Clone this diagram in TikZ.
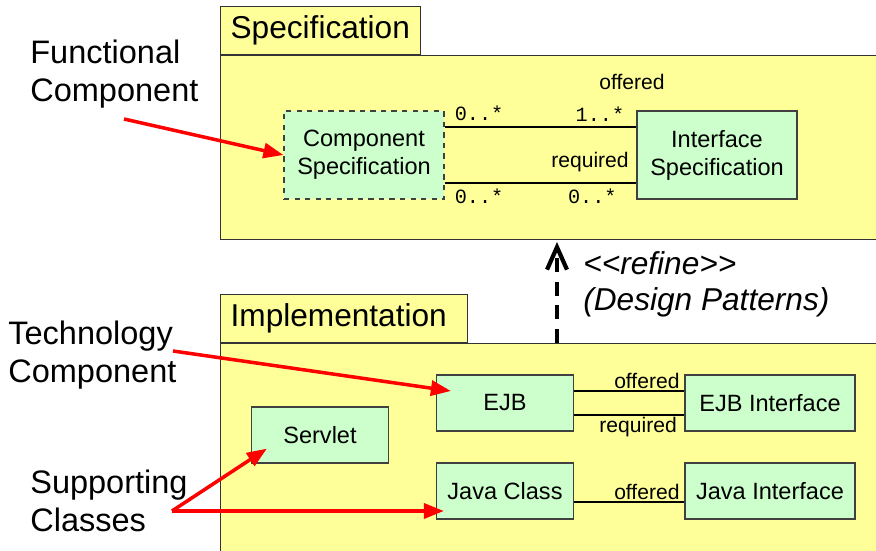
\documentclass[tikz,border=0pt]{standalone}
\usepackage{fontspec}
\setmainfont{Liberation Sans}
\setmonofont{Liberation Mono}
\usetikzlibrary{arrows.meta}
\definecolor{pkgyellow}{RGB}{255,255,153}
\definecolor{compgreen}{RGB}{204,255,204}

\begin{document}
\begin{tikzpicture}[x=0.02cm,y=-0.02cm,
  pkg/.style={draw=black!80,fill=pkgyellow,line width=0.7pt},
  pkgtab/.style={pkg,anchor=south west,minimum height=0.96cm,inner xsep=0.2cm,text width=#1,align=left,font=\fontsize{18}{20}\selectfont},
  comp/.style={draw=black!75,fill=compgreen,line width=0.7pt,align=center,inner sep=0pt,font=\fontsize{13.4}{16}\selectfont},
  assoc/.style={line width=0.8pt},
  role/.style={inner sep=1pt,font=\fontsize{12}{14}\selectfont},
  mult/.style={inner sep=1pt,font=\ttfamily\fontsize{11.5}{13}\selectfont},
  note/.style={anchor=west,align=left,inner sep=0pt,font=\fontsize{18.5}{22}\selectfont},
  pointer/.style={red,line width=2pt,-{Triangle[length=0.4cm,width=0.3cm]}},
  refine/.style={line width=2.4pt,dash pattern=on 8pt off 5.5pt,-{Straight Barb[length=0.45cm,width=0.4cm]}}]
  \useasboundingbox (0,0) rectangle (876,551);
  \clip (0,0) rectangle (876,551);

  % packages
  \node[pkg,anchor=north west,minimum width=13.4cm,minimum height=3.68cm] (specbody) at (220,55) {};
  \node[pkgtab=3.6cm] (spectab) at (specbody.north west) {Specification};
  \node[pkg,anchor=north west,minimum width=13.4cm,minimum height=4.4cm] (implbody) at (220,343) {};
  \node[pkgtab=4.54cm] (impltab) at (implbody.north west) {Implementation};

  % specification level
  \node[comp,dashed,minimum width=3.2cm,minimum height=1.76cm] (compspec) at (364,155) {Component\\Specification};
  \node[comp,minimum width=3.2cm,minimum height=1.76cm] (ifacespec) at (717,155) {Interface\\Specification};
  \draw[assoc] ([yshift=0.56cm]compspec.east) -- ([yshift=0.56cm]ifacespec.west)
    node[mult,pos=0.18,above=2pt] (multa) {0..*}
    node[mult,pos=0.81,above=2pt] (multb) {1..*};
  \draw[assoc] ([yshift=-0.56cm]compspec.east) -- ([yshift=-0.56cm]ifacespec.west)
    node[mult,pos=0.18,below=2pt] (multc) {0..*}
    node[mult,pos=0.77,below=2pt] (multd) {0..*};
  \node[role] (specoffered) at (632,82) {offered};
  \node[role] (specrequired) at (590,162) {required};

  % implementation level
  \node[comp,minimum width=2.74cm,minimum height=1.12cm] (ejb) at (505,403) {EJB};
  \node[comp,minimum width=3.4cm,minimum height=1.12cm] (ejbiface) at (770,403) {EJB Interface};
  \node[comp,minimum width=2.74cm,minimum height=1.12cm] (servlet) at (320,435) {Servlet};
  \node[comp,minimum width=2.74cm,minimum height=1.12cm] (javaclass) at (505,491) {Java Class};
  \node[comp,minimum width=3.4cm,minimum height=1.12cm] (javaiface) at (770,491) {Java Interface};
  \draw[assoc] ([yshift=0.24cm]ejb.east) -- ([yshift=0.24cm]ejbiface.west)
    node[role,pos=0.66,above] (ejboffered) {offered};
  \draw[assoc] ([yshift=-0.24cm]ejb.east) -- ([yshift=-0.24cm]ejbiface.west)
    node[role,pos=0.58,below] (ejbrequired) {required};
  \draw[assoc] ([yshift=-0.22cm]javaclass.east) -- ([yshift=-0.22cm]javaiface.west)
    node[role,pos=0.66,above] (javaoffered) {offered};

  % refinement
  \coordinate (refinefoot) at (557,343);
  \draw[refine] (refinefoot) -- ([yshift=-1pt]refinefoot |- specbody.south);
  \node[note,font=\itshape\fontsize{18}{20.5}\selectfont] (refinetext) at (583,284)
    {<\kern0pt<refine>\kern0pt>\\(Design Patterns)};

  % side notes
  \node[note] (functional) at (30,74) {Functional\\Component};
  \node[note] (technology) at (8,355) {Technology\\Component};
  \node[note] (supporting) at (30,501) {Supporting\\Classes};
  \coordinate (functail) at (124,119);
  \coordinate (techtail) at (173,351);
  \coordinate (supptail) at (172,511);
  \draw[pointer] (functail) -- (compspec.west);
  \draw[pointer] (techtail) -- ([xshift=0.3cm,yshift=0.24cm]ejb.west);
  \draw[pointer] (supptail) -- ([xshift=0.32cm,yshift=0.3cm]servlet.south west);
  \draw[pointer] (supptail) -- ([xshift=0.16cm,yshift=-0.4cm]javaclass.west);
\end{tikzpicture}
\end{document}
